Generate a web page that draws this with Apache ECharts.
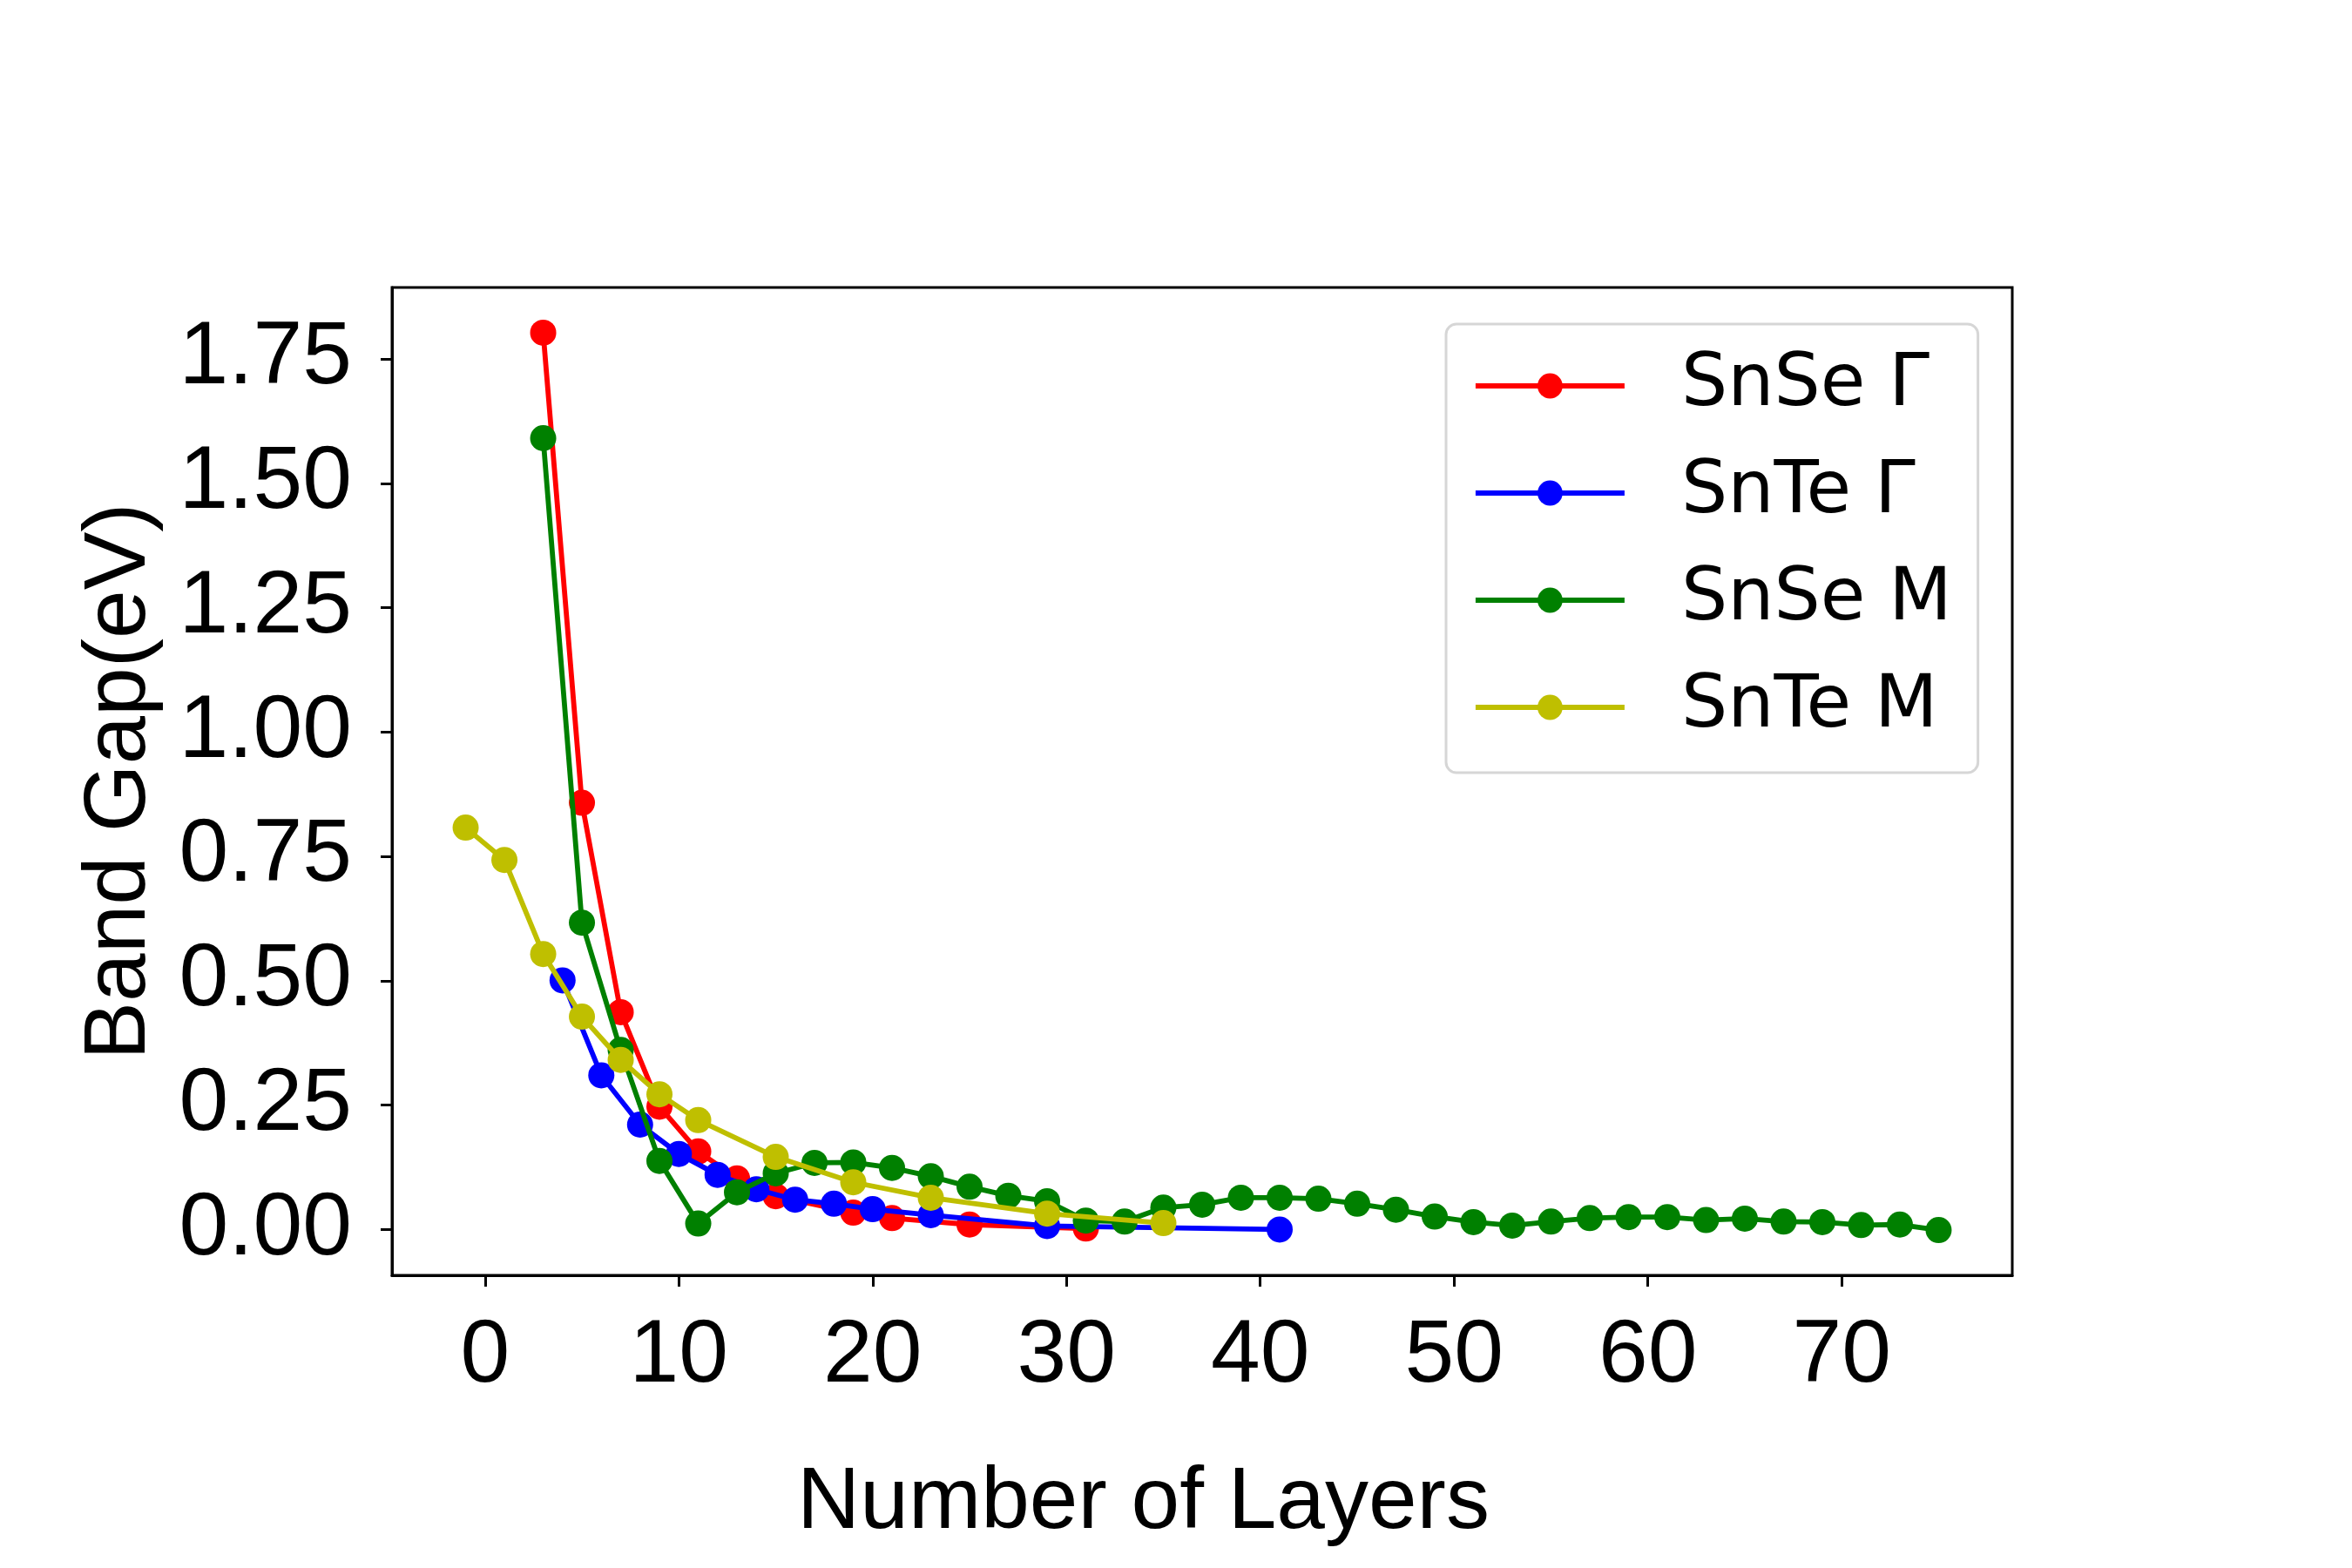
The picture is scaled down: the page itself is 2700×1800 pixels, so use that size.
<!DOCTYPE html>
<html>
<head>
<meta charset="utf-8">
<script src="https://cdn.jsdelivr.net/npm/echarts@6/dist/echarts.min.js"></script>
<style>
  html, body { margin: 0; padding: 0; background: #fff; }
  #chart { width: 2700px; height: 1800px; }
</style>
</head>
<body>
<div id="chart"></div>
<script>
// values
const snseGammaX = [3, 5, 7, 9, 11, 13, 15, 19, 21, 25, 31];
const snseGammaY = [1.803, 0.858, 0.437, 0.247, 0.157, 0.103, 0.067, 0.034, 0.023, 0.010, 0.002];

const snteGammaX = [4, 6, 8, 10, 12, 14, 16, 18, 20, 23, 29, 41];
const snteGammaY = [0.501, 0.310, 0.211, 0.152, 0.110, 0.081, 0.060, 0.052, 0.041, 0.029, 0.007, 0.000];

const snseMX = [3, 5, 7, 9, 11, 13, 15, 17, 19, 21, 23, 25, 27, 29, 31, 33, 35, 37, 39, 41,
  43, 45, 47, 49, 51, 53, 55, 57, 59, 61, 63, 65, 67, 69, 71, 73, 75];
const snseMY = [1.591, 0.617, 0.361, 0.138, 0.012, 0.075, 0.113, 0.134, 0.135, 0.124, 0.107,
  0.086, 0.068, 0.057, 0.018, 0.016, 0.044, 0.050, 0.064, 0.064, 0.062, 0.052, 0.040, 0.026,
  0.015, 0.008, 0.016, 0.023, 0.025, 0.025, 0.019, 0.022, 0.016, 0.015, 0.009, 0.010, -0.001];

const snteMX = [-1, 1, 3, 5, 7, 9, 11, 15, 19, 23, 29, 35];
const snteMY = [0.808, 0.743, 0.554, 0.428, 0.341, 0.272, 0.220, 0.146, 0.095, 0.064, 0.032, 0.013];

const seriesNames = ['SnSe Γ', 'SnTe Γ', 'SnSe M', 'SnTe M'];
const seriesColors = ['#ff0000', '#0000ff', '#008000', '#bfbf00'];

const xTicks = [0, 10, 20, 30, 40, 50, 60, 70];
const yTicks = [0, 0.25, 0.5, 0.75, 1.0, 1.25, 1.5, 1.75];

const pairs = (xs, ys) => xs.map((x, i) => [x, ys[i]]);
const seriesData = [
  pairs(snseGammaX, snseGammaY),
  pairs(snteGammaX, snteGammaY),
  pairs(snseMX, snseMY),
  pairs(snteMX, snteMY)
];

const labelFont = '"Liberation Sans", Arial, sans-serif';

const chart = echarts.init(document.getElementById('chart'), null, { renderer: 'canvas' });

const option = {
  animation: false,
  backgroundColor: '#ffffff',
  grid: {
    left: 450, right: 390, top: 330, bottom: 336,
    show: true, borderColor: '#000', borderWidth: 3, backgroundColor: 'transparent'
  },
  legend: {
    orient: 'vertical',
    left: 1660, top: 372,
    padding: [21, 30, 25, 31],
    itemWidth: 171, itemHeight: 36, itemGap: 23,
    borderColor: '#d6d6d6', borderWidth: 3, borderRadius: 12,
    backgroundColor: '#ffffff',
    lineStyle: { width: 5.8 },
    textStyle: {
      fontFamily: '"DejaVu Sans", sans-serif', fontSize: 84, color: '#000',
      lineHeight: 100, padding: [0, 0, 0, 60]
    },
    data: seriesNames
  },
  xAxis: {
    type: 'value',
    min: -4.8, max: 78.8,
    name: 'Number of Layers',
    nameLocation: 'middle',
    nameGap: 212,
    nameTextStyle: { fontFamily: labelFont, fontSize: 100, color: '#000', padding: [0, 135, 0, 0] },
    axisLine: { show: true, onZero: false, lineStyle: { color: '#000', width: 3 } },
    axisTick: { show: true, length: 13, lineStyle: { color: '#000', width: 3 }, customValues: xTicks },
    axisLabel: { fontFamily: labelFont, fontSize: 102, color: '#000', margin: 43, customValues: xTicks },
    splitLine: { show: false }
  },
  yAxis: {
    type: 'value',
    min: -0.092, max: 1.894,
    name: 'Band Gap(eV)',
    nameLocation: 'middle',
    nameGap: 262,
    nameTextStyle: { fontFamily: labelFont, fontSize: 100, color: '#000' },
    axisLine: { show: true, onZero: false, lineStyle: { color: '#000', width: 3 } },
    axisTick: { show: true, length: 13, lineStyle: { color: '#000', width: 3 }, customValues: yTicks },
    axisLabel: {
      fontFamily: labelFont, fontSize: 102, color: '#000', margin: 46, customValues: yTicks,
      formatter: v => v.toFixed(2)
    },
    splitLine: { show: false }
  },
  series: seriesNames.map((name, i) => ({
    name: name,
    type: 'line',
    data: seriesData[i],
    symbol: 'circle',
    symbolSize: 30,
    showSymbol: true,
    showAllSymbol: true,
    color: seriesColors[i],
    lineStyle: { width: 5.8, color: seriesColors[i] },
    itemStyle: { color: seriesColors[i] },
    emphasis: { disabled: true },
    z: 2 + i
  }))
};

chart.setOption(option);
</script>
</body>
</html>
